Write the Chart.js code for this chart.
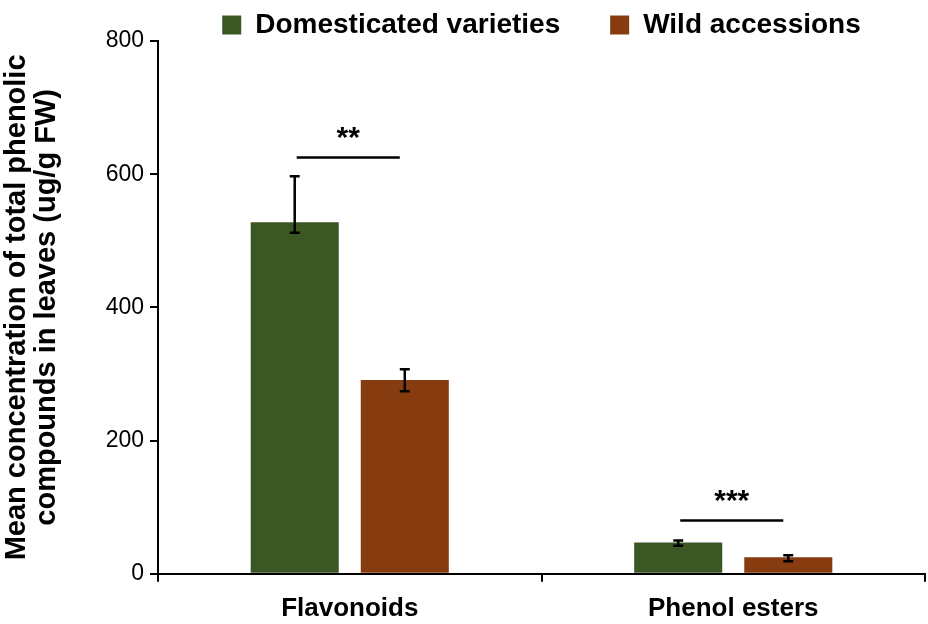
<!DOCTYPE html>
<html>
<head>
<meta charset="utf-8">
<script src="https://cdn.jsdelivr.net/npm/chart.js@4.4.1/dist/chart.umd.min.js"></script>
<style>
  body { margin: 0; background: #ffffff; }
  #wrap { width: 928px; height: 624px; }
</style>
</head>
<body>
<div id="wrap"><canvas id="grafico" width="928" height="624"></canvas></div>
<script>
// ===============================
// DATA
// ===============================

const categorias = ["Flavonoids", "Phenol esters"];

const domesticadas = [528, 47];
const domesticadasAlto = [597, 50];
const domesticadasBaixo = [512, 42];

const selvagens = [291, 25];
const selvagensAlto = [307, 28];
const selvagensBaixo = [274, 19];

const significancia = ["**", "***"];
const nivelSignificancia = [625, 80];

const tituloY = ["Mean concentration of total phenolic", "compounds in leaves (ug/g FW)"];

const FONTE = "'Liberation Sans', Arial, Helvetica, sans-serif";

// ===============================
// ERROR BARS + SIGNIFICANCE
// ===============================

const barrasErro = {
  id: "barrasErro",
  afterDatasetsDraw(chart){
    const ctx = chart.ctx;
    const y = chart.scales.y;
    const faixas = [
      [domesticadasAlto, domesticadasBaixo],
      [selvagensAlto, selvagensBaixo]
    ];
    ctx.save();
    ctx.strokeStyle = "#000";
    ctx.lineWidth = 2.5;
    faixas.forEach((faixa, i)=>{
      const meta = chart.getDatasetMeta(i);
      meta.data.forEach((bar, j)=>{
        const yA = y.getPixelForValue(faixa[0][j]);
        const yB = y.getPixelForValue(faixa[1][j]);
        ctx.beginPath();
        ctx.moveTo(bar.x, yA); ctx.lineTo(bar.x, yB);
        ctx.moveTo(bar.x - 5, yA); ctx.lineTo(bar.x + 5, yA);
        ctx.moveTo(bar.x - 5, yB); ctx.lineTo(bar.x + 5, yB);
        ctx.stroke();
      });
    });

    // linhas de significancia
    const m0 = chart.getDatasetMeta(0);
    const m1 = chart.getDatasetMeta(1);
    ctx.fillStyle = "#000";
    ctx.font = "bold 30px " + FONTE;
    ctx.textAlign = "center";
    ctx.textBaseline = "alphabetic";
    significancia.forEach((txt, j)=>{
      const x1 = m0.data[j].x + 2;
      const x2 = m1.data[j].x - 5;
      const yl = y.getPixelForValue(nivelSignificancia[j]);
      ctx.beginPath();
      ctx.moveTo(x1, yl); ctx.lineTo(x2, yl);
      ctx.stroke();
      ctx.fillText(txt, (x1 + x2) / 2, yl - 11);
    });
    ctx.restore();
  }
};

// ===============================
// CHART
// ===============================

const ctx = document.getElementById("grafico").getContext("2d");

new Chart(ctx, {
  type: "bar",
  data: {
    labels: categorias,
    datasets: [
      {
        label: "Domesticated varieties     ",
        data: domesticadas,
        backgroundColor: "#3b5724",
        borderWidth: 0
      },
      {
        label: "Wild accessions",
        data: selvagens,
        backgroundColor: "#873c10",
        borderWidth: 0
      }
    ]
  },
  options: {
    responsive: false,
    animation: false,
    devicePixelRatio: 1,
    categoryPercentage: 0.574,
    barPercentage: 0.8,
    layout: { padding: { left: 0, right: 3, top: 0, bottom: -11 } },
    plugins: {
      tooltip: { enabled: false },
      legend: {
        position: "top",
        fullSize: false,
        maxHeight: 41,
        labels: {
          boxWidth: 19,
          boxHeight: 19,
          padding: 11,
          color: "#000",
          font: { family: FONTE, size: 28, weight: "bold" }
        }
      }
    },
    scales: {
      x: {
        grid: {
          drawOnChartArea: false,
          drawTicks: true,
          tickLength: 8,
          color: "#000",
          lineWidth: 2
        },
        border: { color: "#000", width: 2 },
        ticks: {
          color: "#000",
          padding: 11,
          font: { family: FONTE, size: 26, weight: "bold" }
        }
      },
      y: {
        min: 0,
        max: 800,
        afterFit(scale){ scale.width = 158; },
        grid: {
          drawOnChartArea: false,
          drawTicks: true,
          tickLength: 8,
          color: "#000",
          lineWidth: 2
        },
        border: { color: "#000", width: 2 },
        ticks: {
          stepSize: 200,
          color: "#000",
          padding: 6,
          font: { family: FONTE, size: 23 }
        },
        title: {
          display: true,
          text: tituloY,
          color: "#000",
          padding: { top: 2, bottom: 0 },
          font: { family: FONTE, size: 29, weight: "bold", lineHeight: 1.04 }
        }
      }
    }
  },
  plugins: [barrasErro]
});
</script>
</body>
</html>
